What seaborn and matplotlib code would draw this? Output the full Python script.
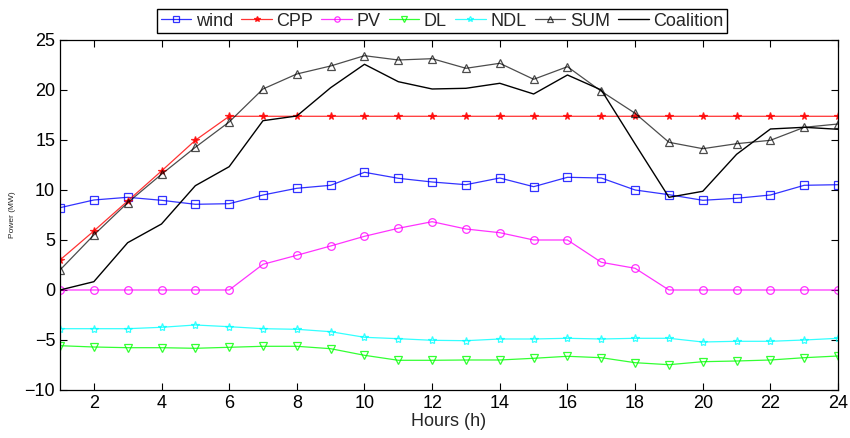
import matplotlib
matplotlib.use("Agg")
import matplotlib.pyplot as plt
import seaborn as sns
import numpy as np

hours = list(range(1, 25))

wind = [8.23, 9.0, 9.27, 8.97, 8.57, 8.63, 9.5, 10.17, 10.47, 11.77, 11.17, 10.8,
        10.53, 11.2, 10.33, 11.27, 11.2, 10.0, 9.53, 8.97, 9.17, 9.5, 10.47, 10.53]
cpp = [3.0, 5.9, 8.9, 11.9, 14.97, 17.37, 17.37, 17.37, 17.37, 17.37, 17.37, 17.37,
       17.37, 17.37, 17.37, 17.37, 17.37, 17.37, 17.37, 17.37, 17.37, 17.37, 17.37, 17.37]
pv = [0, 0, 0, 0, 0, 0, 2.57, 3.47, 4.4, 5.37, 6.17, 6.83,
      6.1, 5.73, 5.0, 5.0, 2.77, 2.17, 0, 0, 0, 0, 0, 0]
dl = [-5.57, -5.7, -5.77, -5.77, -5.83, -5.73, -5.63, -5.63, -5.87, -6.53, -7.03, -7.03,
      -7.0, -7.0, -6.83, -6.63, -6.77, -7.27, -7.47, -7.17, -7.1, -7.0, -6.77, -6.6]
ndl = [-3.87, -3.87, -3.87, -3.73, -3.5, -3.67, -3.87, -3.93, -4.17, -4.73, -4.87, -5.03,
       -5.07, -4.9, -4.9, -4.83, -4.9, -4.83, -4.83, -5.2, -5.13, -5.13, -5.0, -4.83]
total = [2.0, 5.5, 8.73, 11.57, 14.27, 16.8, 20.1, 21.6, 22.4, 23.43, 23.0, 23.13,
         22.17, 22.67, 21.07, 22.33, 19.87, 17.67, 14.77, 14.13, 14.63, 14.97, 16.27, 16.6]
coalition = [0, 0.83, 4.73, 6.6, 10.43, 12.33, 16.93, 17.4, 20.23, 22.57, 20.83, 20.1,
             20.17, 20.67, 19.6, 21.5, 20.0, 14.6, 9.27, 9.87, 13.57, 16.1, 16.27, 16.07]

sns.set_style("ticks")
plt.rcParams["font.family"] = ["Liberation Sans", "DejaVu Sans"]

fig = plt.figure(figsize=(8.5, 4.38), dpi=100)
ax = fig.add_axes([0.0706, 0.1096, 0.9154, 0.7991])

series = [
    ("wind", wind, "#0000ff", "s", "none", 5.5),
    ("CPP", cpp, "#ff0000", "*", "#ff0000", 5.5),
    ("PV", pv, "#ff00ff", "o", "none", 5.5),
    ("DL", dl, "#00ff00", "v", "none", 6),
    ("NDL", ndl, "#00ffff", "*", "none", 6),
    ("SUM", total, "#000000", "^", "none", 6),
]
for name, vals, col, mk, fc, ms in series:
    sns.lineplot(x=hours, y=vals, ax=ax, color=col, marker=mk, markersize=ms,
                 markerfacecolor=fc, markeredgecolor=col, markeredgewidth=0.9,
                 linewidth=0.9, alpha=0.8 if name != "SUM" else 0.7, label=name)
sns.lineplot(x=hours, y=coalition, ax=ax, color="black", linewidth=1.0, label="Coalition")

ax.set_xlim(1, 24)
ax.set_ylim(-10, 25)
ax.set_xticks(range(2, 25, 2))
ax.set_yticks(range(-10, 26, 5))
ax.tick_params(direction="in", length=5, width=0.8, labelsize=13, top=True, right=True,
               colors="black")
for s in ax.spines.values():
    s.set_visible(True)
    s.set_color("black")
    s.set_linewidth(0.9)
ax.set_xlabel("Hours (h)", fontsize=13, labelpad=1)
ax.set_ylabel("Power (MW)", fontsize=6)
ax.yaxis.set_label_coords(-0.057, 0.5)
ax.grid(False)

leg = ax.legend(loc="center", bbox_to_anchor=(0.52, 0.952), bbox_transform=fig.transFigure,
                ncol=7, fontsize=13, frameon=True, fancybox=False, framealpha=1,
                edgecolor="black", handlelength=1.7, handletextpad=0.25, columnspacing=0.45,
                borderpad=0.2, borderaxespad=0, markerscale=0.7)
leg.get_frame().set_linewidth(1.0)

fig.savefig("out.png", dpi=100)
